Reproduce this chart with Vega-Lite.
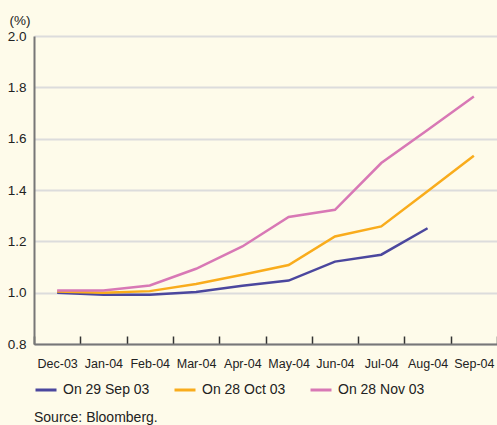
{
  "$schema": "https://vega.github.io/schema/vega-lite/v6.json",
  "width": 463,
  "height": 308,
  "autosize": "none",
  "padding": {"left": 34, "top": 36, "right": 0, "bottom": 81},
  "background": "#FEFBEA",
  "config": {
    "view": {"stroke": null},
    "font": "Liberation Sans"
  },
  "title": {
    "text": "Source: Bloomberg.",
    "orient": "bottom",
    "anchor": "start",
    "frame": "group",
    "fontSize": 14,
    "fontWeight": "normal",
    "color": "#222222",
    "offset": 14
  },
  "data": {
    "values": [
      {"month": "Dec-03", "series": "On 29 Sep 03", "value": 1.0},
      {"month": "Jan-04", "series": "On 29 Sep 03", "value": 0.992},
      {"month": "Feb-04", "series": "On 29 Sep 03", "value": 0.992},
      {"month": "Mar-04", "series": "On 29 Sep 03", "value": 1.003},
      {"month": "Apr-04", "series": "On 29 Sep 03", "value": 1.027},
      {"month": "May-04", "series": "On 29 Sep 03", "value": 1.047},
      {"month": "Jun-04", "series": "On 29 Sep 03", "value": 1.121},
      {"month": "Jul-04", "series": "On 29 Sep 03", "value": 1.148},
      {"month": "Aug-04", "series": "On 29 Sep 03", "value": 1.251},
      {"month": "Dec-03", "series": "On 28 Oct 03", "value": 1.005},
      {"month": "Jan-04", "series": "On 28 Oct 03", "value": 1.0},
      {"month": "Feb-04", "series": "On 28 Oct 03", "value": 1.006},
      {"month": "Mar-04", "series": "On 28 Oct 03", "value": 1.034},
      {"month": "Apr-04", "series": "On 28 Oct 03", "value": 1.07},
      {"month": "May-04", "series": "On 28 Oct 03", "value": 1.108},
      {"month": "Jun-04", "series": "On 28 Oct 03", "value": 1.219},
      {"month": "Jul-04", "series": "On 28 Oct 03", "value": 1.258},
      {"month": "Aug-04", "series": "On 28 Oct 03", "value": 1.395},
      {"month": "Sep-04", "series": "On 28 Oct 03", "value": 1.533},
      {"month": "Dec-03", "series": "On 28 Nov 03", "value": 1.008},
      {"month": "Jan-04", "series": "On 28 Nov 03", "value": 1.008},
      {"month": "Feb-04", "series": "On 28 Nov 03", "value": 1.028},
      {"month": "Mar-04", "series": "On 28 Nov 03", "value": 1.093},
      {"month": "Apr-04", "series": "On 28 Nov 03", "value": 1.18},
      {"month": "May-04", "series": "On 28 Nov 03", "value": 1.295},
      {"month": "Jun-04", "series": "On 28 Nov 03", "value": 1.323},
      {"month": "Jul-04", "series": "On 28 Nov 03", "value": 1.505},
      {"month": "Aug-04", "series": "On 28 Nov 03", "value": 1.634},
      {"month": "Sep-04", "series": "On 28 Nov 03", "value": 1.764}
    ]
  },
  "mark": {"type": "line", "strokeWidth": 2.5},
  "encoding": {
    "x": {
      "field": "month",
      "type": "ordinal",
      "sort": ["Dec-03", "Jan-04", "Feb-04", "Mar-04", "Apr-04", "May-04", "Jun-04", "Jul-04", "Aug-04", "Sep-04"],
      "scale": {"type": "band", "paddingInner": 0, "paddingOuter": 0},
      "axis": {
        "title": null,
        "labelAngle": 0,
        "labelFontSize": 12.5,
        "labelColor": "#222222",
        "labelPadding": 21,
        "tickSize": -8,
        "tickWidth": 1.5,
        "tickColor": "#333333",
        "tickBand": "extent",
        "domainColor": "#777777",
        "domainWidth": 2,
        "grid": false
      }
    },
    "y": {
      "field": "value",
      "type": "quantitative",
      "scale": {"domain": [0.8, 2.0], "nice": false, "zero": false},
      "axis": {
        "values": [0.8, 1.0, 1.2, 1.4, 1.6, 1.8, 2.0],
        "format": ".1f",
        "title": "(%)",
        "titleAngle": 0,
        "titleAlign": "left",
        "titleBaseline": "middle",
        "titleX": -25,
        "titleY": -16,
        "titleFontSize": 13.5,
        "titleFontWeight": "normal",
        "titleColor": "#222222",
        "labelFontSize": 13.5,
        "labelColor": "#222222",
        "labelPadding": 8,
        "ticks": false,
        "domainColor": "#777777",
        "domainWidth": 2,
        "gridColor": "#DCDCDC",
        "gridWidth": 2
      }
    },
    "color": {
      "field": "series",
      "type": "nominal",
      "sort": ["On 29 Sep 03", "On 28 Oct 03", "On 28 Nov 03"],
      "scale": {
        "domain": ["On 29 Sep 03", "On 28 Oct 03", "On 28 Nov 03"],
        "range": ["#4B479E", "#F9AC1C", "#D878B5"]
      },
      "legend": {
        "title": null,
        "orient": "none",
        "legendX": 0,
        "legendY": 342,
        "direction": "horizontal",
        "symbolType": "stroke",
        "symbolSize": 441,
        "symbolStrokeWidth": 3,
        "labelFontSize": 14,
        "labelColor": "#222222",
        "labelOffset": 5,
        "columnPadding": 18
      }
    }
  }
}
